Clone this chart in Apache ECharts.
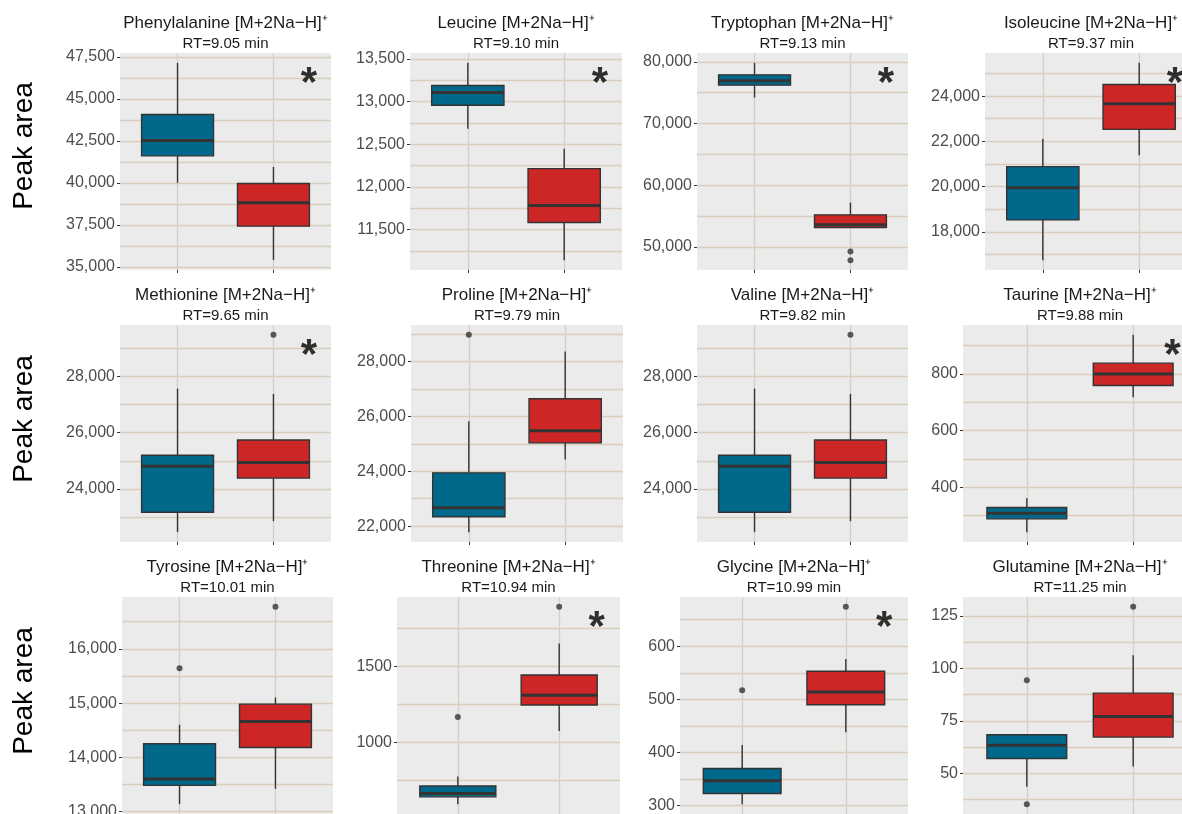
<!DOCTYPE html>
<html>
<head>
<meta charset="utf-8">
<script src="https://cdn.jsdelivr.net/npm/echarts@6/dist/echarts.min.js"></script>
<style>
  html, body { margin: 0; padding: 0; background: #ffffff; }
  #chart { width: 1182px; height: 814px; }
</style>
</head>
<body>
<div id="chart"></div>
<script>
// Compounds shown, one panel each (read row by row)
const compounds = ['Phenylalanine', 'Leucine', 'Tryptophan', 'Isoleucine',
                   'Methionine', 'Proline', 'Valine', 'Taurine',
                   'Tyrosine', 'Threonine', 'Glycine', 'Glutamine'];
const retentionTimes = ['9.05', '9.10', '9.13', '9.37', '9.65', '9.79', '9.82', '9.88',
                        '10.01', '10.94', '10.99', '11.25'];

// Box statistics per compound: [lower whisker, Q1, median, Q3, upper whisker]
const blueStats = [
  [40000, 41607, 42524, 44071, 47143],
  [12681, 12957, 13106, 13188, 13453],
  [74211, 76222, 76919, 77892, 79838],
  [16752, 18530, 19956, 20882, 22118],
  [22471, 23178, 24812, 25200, 27565],
  [21782, 22342, 22669, 23942, 25818],
  [22471, 23178, 24812, 25200, 27565],
  [241, 288, 308, 328, 361],
  [13140, 13485, 13601, 14252, 14602],
  [594, 642, 664, 714, 776],
  [303, 323, 347, 370, 414],
  [43.5, 57.0, 63.3, 68.3, 68.3]
];
const redStats = [
  [35399, 37423, 38810, 39964, 40952],
  [11141, 11582, 11782, 12213, 12447],
  [53132, 53132, 53569, 55190, 57185],
  [21384, 22531, 23662, 24516, 25469],
  [22859, 24388, 24942, 25740, 27377],
  [24425, 25033, 25480, 26644, 28364],
  [22859, 24388, 24942, 25740, 27377],
  [718, 759, 800, 838, 938],
  [13424, 14184, 14663, 14981, 15104],
  [1076, 1247, 1311, 1445, 1653],
  [438, 490, 514, 553, 576],
  [53.2, 67.2, 77.0, 88.2, 106.3]
];

// Points beyond the whiskers
const blueOutliers = [[], [], [], [], [], [28970], [], [], [15643], [1168], [517], [94.4, 35.2]];
const redOutliers = [[], [], [49240, 47845], [], [29471], [], [29471], [], [16773], [1894], [674], [129.4]];

// Significant difference marker per compound
const significant = [true, true, true, true, true, false, false, true, false, true, true, false];

// Spacing of labelled y ticks per panel
const tickSteps = [2500, 500, 10000, 2000, 2000, 2000, 2000, 200, 1000, 500, 100, 25];

// ---- layout (pixels) ----
const plotLeft = [120, 410, 697, 985, 120, 411, 697, 963, 122, 397, 680, 963];
const plotRight = [331, 622, 908, 1197, 331, 623, 908, 1197, 333, 620, 908, 1197];
const rowTop = [53, 325, 597];
const plotHeight = 217;
const rowLabelY = [146, 419, 691];

const FONT = '"Liberation Sans", Arial, sans-serif';
const FILLS = ['#00688B', '#CD2626'];
const INK = '#333333';
const GRID_COLOR = '#d9cdbf';

function formatTick(v) {
  return v >= 10000 ? v.toLocaleString('en-US') : String(v);
}

function multiplesWithin(step, lo, hi) {
  const out = [];
  for (let k = Math.ceil(lo / step); k * step <= hi; k++) out.push(+(k * step).toFixed(6));
  return out;
}

function renderBox(params, api) {
  const x = api.value(0);
  const fill = FILLS[api.value(6)];
  const halfW = api.size([0.75, 0])[0] / 2;
  const low = api.coord([x, api.value(1)]);
  const q1 = api.coord([x, api.value(2)]);
  const med = api.coord([x, api.value(3)]);
  const q3 = api.coord([x, api.value(4)]);
  const high = api.coord([x, api.value(5)]);
  const cx = med[0];
  return {
    type: 'group',
    children: [
      { type: 'line', shape: { x1: cx, y1: q3[1], x2: cx, y2: high[1] }, style: { stroke: INK, lineWidth: 1.4 } },
      { type: 'line', shape: { x1: cx, y1: q1[1], x2: cx, y2: low[1] }, style: { stroke: INK, lineWidth: 1.4 } },
      { type: 'rect', shape: { x: cx - halfW, y: q3[1], width: 2 * halfW, height: q1[1] - q3[1] },
        style: { fill: fill, stroke: INK, lineWidth: 1.4 } },
      { type: 'line', shape: { x1: cx - halfW, y1: med[1], x2: cx + halfW, y2: med[1] },
        style: { stroke: INK, lineWidth: 3 } }
    ]
  };
}

const grids = [], xAxes = [], yAxes = [], series = [], titles = [];

compounds.forEach((name, i) => {
  const row = Math.floor(i / 4);
  const all = blueStats[i].concat(redStats[i], blueOutliers[i], redOutliers[i]);
  const lo = Math.min(...all), hi = Math.max(...all);
  const pad = 0.05 * (hi - lo);
  const yMin = lo - pad, yMax = hi + pad;
  const step = tickSteps[i];
  const majors = multiplesWithin(step, yMin, yMax);
  const gridValues = multiplesWithin(step / 2, yMin, yMax);

  const top = rowTop[row];
  grids.push({
    left: plotLeft[i], top: top, width: plotRight[i] - plotLeft[i], height: plotHeight,
    show: true, backgroundColor: '#ebebeb', borderWidth: 0, containLabel: false,
    outerBoundsMode: 'none'
  });

  xAxes.push({
    gridIndex: i, type: 'value', min: 0.4, max: 2.6, position: 'bottom',
    axisLine: { show: false, onZero: false },
    axisLabel: { show: false },
    axisTick: { show: true, customValues: [1, 2], length: 3, lineStyle: { color: INK, width: 1 } },
    splitLine: { show: true, lineStyle: { color: GRID_COLOR, width: 1.3 } }
  });

  // grid-line axis (majors + minors), no labels
  yAxes.push({
    gridIndex: i, type: 'value', min: yMin, max: yMax, position: 'right',
    axisLine: { show: false }, axisLabel: { show: false },
    axisTick: { show: false, customValues: gridValues },
    splitLine: { show: true, lineStyle: { color: GRID_COLOR, width: 1.3 } }
  });
  const labelAxis = yAxes.length;
  yAxes.push({
    gridIndex: i, type: 'value', min: yMin, max: yMax, position: 'left',
    axisLine: { show: false },
    axisTick: { show: true, customValues: majors, length: 3, lineStyle: { color: INK, width: 1 } },
    axisLabel: { customValues: majors, formatter: formatTick, fontSize: 16, color: '#4d4d4d',
                 fontFamily: FONT, margin: 5 },
    splitLine: { show: false }
  });

  series.push({
    type: 'custom', xAxisIndex: i, yAxisIndex: labelAxis, renderItem: renderBox,
    encode: { x: 0, y: [1, 2, 3, 4, 5] }, silent: true,
    data: [[1].concat(blueStats[i], [0]), [2].concat(redStats[i], [1])]
  });

  const outliers = blueOutliers[i].map(v => [1, v]).concat(redOutliers[i].map(v => [2, v]));
  if (outliers.length) {
    series.push({
      type: 'scatter', xAxisIndex: i, yAxisIndex: labelAxis, silent: true,
      symbol: 'circle', symbolSize: 6, itemStyle: { color: INK },
      data: outliers
    });
  }

  if (significant[i]) {
    series.push({
      type: 'scatter', xAxisIndex: i, yAxisIndex: labelAxis, silent: true,
      symbolSize: 1, itemStyle: { color: 'rgba(0,0,0,0)' },
      label: { show: true, position: 'inside', formatter: '*', fontSize: 42, fontWeight: 'bold',
               color: '#000000', fontFamily: FONT, offset: [0, 9] },
      data: [[2.37, yMax - 0.105 * (yMax - yMin)]]
    });
  }

  titles.push({
    text: name + ' [M+2Na\u2212H]\u207A',
    subtext: 'RT=' + retentionTimes[i] + ' min',
    left: (plotLeft[i] + plotRight[i]) / 2, top: top - 38,
    textAlign: 'center', padding: 0, itemGap: 4,
    textStyle: { fontSize: 17, fontWeight: 'normal', color: '#1a1a1a', fontFamily: FONT },
    subtextStyle: { fontSize: 15, color: '#1a1a1a', fontFamily: FONT }
  });
});

const chart = echarts.init(document.getElementById('chart'), null, { renderer: 'canvas' });
chart.setOption({
  animation: false,
  backgroundColor: '#ffffff',
  title: titles,
  grid: grids,
  xAxis: xAxes,
  yAxis: yAxes,
  series: series,
  graphic: rowLabelY.map(y => ({
    type: 'text', x: 24, y: y, rotation: Math.PI / 2, silent: true,
    style: { text: 'Peak area', font: '28px ' + FONT, fill: '#000000', align: 'center', verticalAlign: 'middle' }
  }))
});
</script>
</body>
</html>
